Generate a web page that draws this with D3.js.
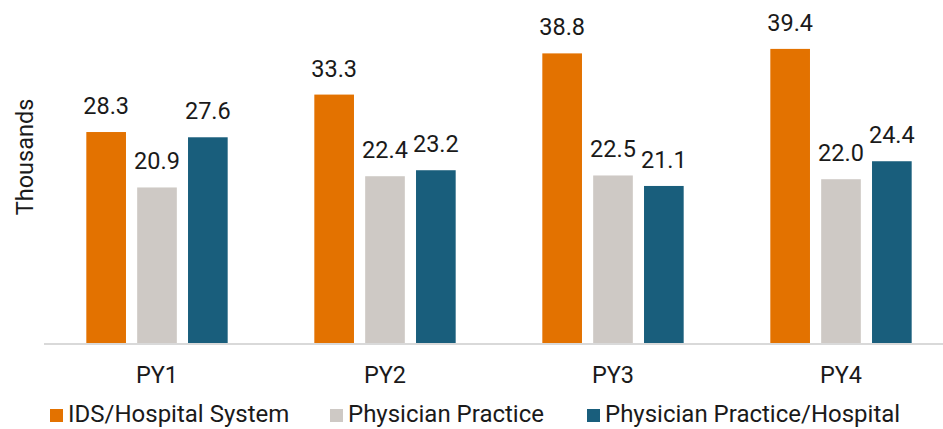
<!DOCTYPE html>
<html>
<head>
<meta charset="utf-8">
<script src="https://cdn.jsdelivr.net/npm/d3@7"></script>
<style>
  html, body { margin: 0; padding: 0; background: #fff; }
  svg { display: block; font-family: Roboto, "Noto Sans", sans-serif; }
</style>
</head>
<body>
<svg id="chart" width="943" height="429"></svg>
<script>
// Program years and series
const categories = ["PY1", "PY2", "PY3", "PY4"];
const seriesNames = ["IDS/Hospital System", "Physician Practice", "Physician Practice/Hospital"];
const idsHospital = [28.3, 33.3, 38.8, 39.4];
const physicianPractice = [20.9, 22.4, 22.5, 22.0];
const practiceHospital = [27.6, 23.2, 21.1, 24.4];
const seriesColors = ["#E37200", "#CEC9C5", "#195E7C"];
const yAxisTitle = "Thousands";

const seriesValues = [idsHospital, physicianPractice, practiceHospital];

const svg = d3.select("#chart");
const baseY = 344;
const fontSize = 23.5;
const legendFontSize = 24;
const textColor = "#1a1a1a";

const x0 = d3.scaleBand().domain(categories).range([43, 955]).paddingInner(0).paddingOuter(0);
const x1 = d3.scaleBand().domain(seriesNames)
  .range([0, x0.bandwidth() * 0.62])
  .paddingInner(0.22).paddingOuter(0);
const groupOffset = (x0.bandwidth() - x1.range()[1]) / 2;

const y = d3.scaleLinear().domain([0, 45]).range([baseY, baseY - 45 * 7.49]);

// Axis title
svg.append("text")
  .attr("transform", `translate(33,157) rotate(-90)`)
  .attr("text-anchor", "middle")
  .attr("font-size", fontSize)
  .attr("fill", textColor)
  .text(yAxisTitle);

// Bars and value labels
const groups = svg.selectAll("g.grp")
  .data(categories)
  .join("g")
  .attr("class", "grp")
  .attr("transform", d => `translate(${x0(d) + groupOffset},0)`);

groups.each(function(cat, ci) {
  const g = d3.select(this);
  const rows = seriesNames.map((s, si) => ({ s, si, v: seriesValues[si][ci] }));
  g.selectAll("rect")
    .data(rows)
    .join("rect")
    .attr("x", d => x1(d.s))
    .attr("width", x1.bandwidth())
    .attr("y", d => y(d.v))
    .attr("height", d => baseY - y(d.v))
    .attr("fill", d => seriesColors[d.si]);
  g.selectAll("text")
    .data(rows)
    .join("text")
    .attr("x", d => x1(d.s) + x1.bandwidth() / 2)
    .attr("y", d => y(d.v) - 18)
    .attr("text-anchor", "middle")
    .attr("font-size", fontSize)
    .attr("fill", textColor)
    .text(d => d.v.toFixed(1));
});

// Category axis
const xAxis = d3.axisBottom(x0).tickSize(0).tickPadding(0);
const axisG = svg.append("g").attr("transform", `translate(0,${baseY})`).call(xAxis);
axisG.select(".domain").remove();
axisG.append("line")
  .attr("x1", 44).attr("x2", 943)
  .attr("stroke", "#d9d9d9").attr("stroke-width", 2);
axisG.selectAll(".tick text")
  .attr("y", 39)
  .attr("dy", 0)
  .attr("font-size", fontSize)
  .attr("font-family", "Roboto, 'Noto Sans', sans-serif")
  .attr("fill", textColor);

// Legend
const legendX = [50, 330, 587];
const legend = svg.selectAll("g.leg")
  .data(seriesNames)
  .join("g")
  .attr("class", "leg")
  .attr("transform", (d, i) => `translate(${legendX[i]},409)`);
legend.append("rect")
  .attr("width", 13).attr("height", 13)
  .attr("fill", (d, i) => seriesColors[i]);
legend.append("text")
  .attr("x", 18).attr("y", 13)
  .attr("font-size", legendFontSize)
  .attr("fill", textColor)
  .text(d => d);
</script>
</body>
</html>
